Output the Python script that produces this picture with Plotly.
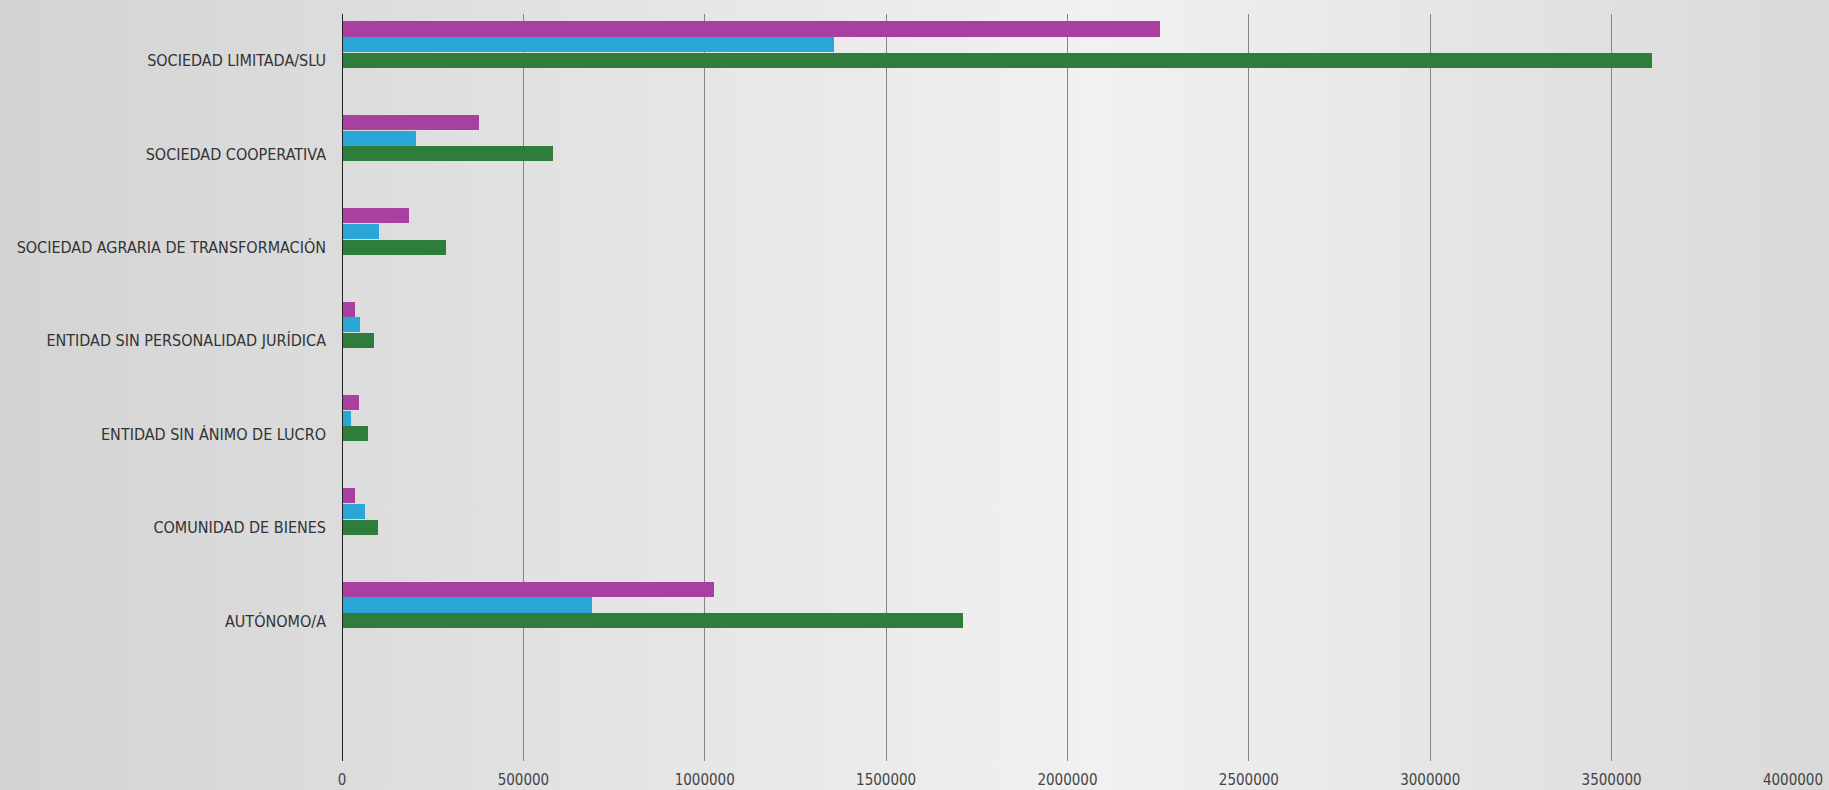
import plotly.graph_objects as go

# Datos por forma jurídica
categorias = [
    "SOCIEDAD LIMITADA/SLU",
    "SOCIEDAD COOPERATIVA",
    "SOCIEDAD AGRARIA DE TRANSFORMACIÓN",
    "ENTIDAD SIN PERSONALIDAD JURÍDICA",
    "ENTIDAD SIN ÁNIMO DE LUCRO",
    "COMUNIDAD DE BIENES",
    "AUTÓNOMO/A",
]
serie_morada = [2255000, 378000, 186000, 35000, 46000, 35000, 1025000]
serie_azul = [1355000, 203000, 101000, 50000, 24000, 63000, 688000]
serie_verde = [3610000, 582000, 287000, 88000, 72000, 100000, 1713000]
ticks_x = [0, 500000, 1000000, 1500000, 2000000, 2500000, 3000000, 3500000, 4000000]

FONT = "Liberation Sans Narrow, DejaVu Sans Condensed, Arial Narrow, sans-serif"

fig = go.Figure()
series = [
    (serie_morada, '#a8409f', -0.42),
    (serie_azul, '#2aa7d7', -0.252),
    (serie_verde, '#2e7d3a', -0.084),
]
for valores, color, offset in series:
    fig.add_trace(go.Bar(
        y=categorias, x=valores, orientation='h',
        width=0.162, offset=offset,
        marker=dict(color=color, line=dict(width=0)),
        showlegend=False,
    ))

# Fondo degradado gris
svg = (
    "data:image/svg+xml;utf8,"
    "<svg xmlns='http://www.w3.org/2000/svg' width='100' height='100' preserveAspectRatio='none'>"
    "<defs><linearGradient id='g' x1='0' x2='1' y1='0' y2='0'>"
    "<stop offset='0' stop-color='%23d3d3d3'/>"
    "<stop offset='0.6' stop-color='%23f1f1f1'/>"
    "<stop offset='1' stop-color='%23d9d9d9'/>"
    "</linearGradient></defs>"
    "<rect width='100' height='100' fill='url(%23g)'/></svg>"
)
fig.add_layout_image(dict(
    source=svg, xref='paper', yref='paper',
    x=-342 / 1451, y=1 + 14 / 747, sizex=1829 / 1451, sizey=790 / 747,
    sizing='stretch', layer='below', xanchor='left', yanchor='top',
))

fig.update_layout(
    width=1829, height=790,
    margin=dict(l=342, r=36, t=14, b=29),
    paper_bgcolor='#e4e4e4', plot_bgcolor='rgba(0,0,0,0)',
    barmode='group', bargap=0, bargroupgap=0,
    font=dict(family=FONT, size=16, color='#333'),
)
fig.update_xaxes(
    range=[0, 4000000], tickvals=ticks_x, ticktext=[str(t) for t in ticks_x],
    showgrid=True, gridcolor='#858585', gridwidth=1,
    zeroline=False, showline=False, ticks='',
    ticklabelstandoff=8, tickfont=dict(size=15, color='#444'),
    automargin=False,
)
fig.update_yaxes(
    type='category', range=[7.5, -0.5],
    showgrid=False, zeroline=False, ticks='',
    showline=False, ticklabelstandoff=15,
    automargin=False,
)
# Eje vertical en x=0
fig.add_shape(type='line', xref='x', yref='paper', x0=0, x1=0, y0=0, y1=1,
              line=dict(color='#222', width=2))

fig.write_html("out.html", config={'displayModeBar': False},
               post_script="document.body.style.margin='0';document.body.style.overflow='hidden';")
